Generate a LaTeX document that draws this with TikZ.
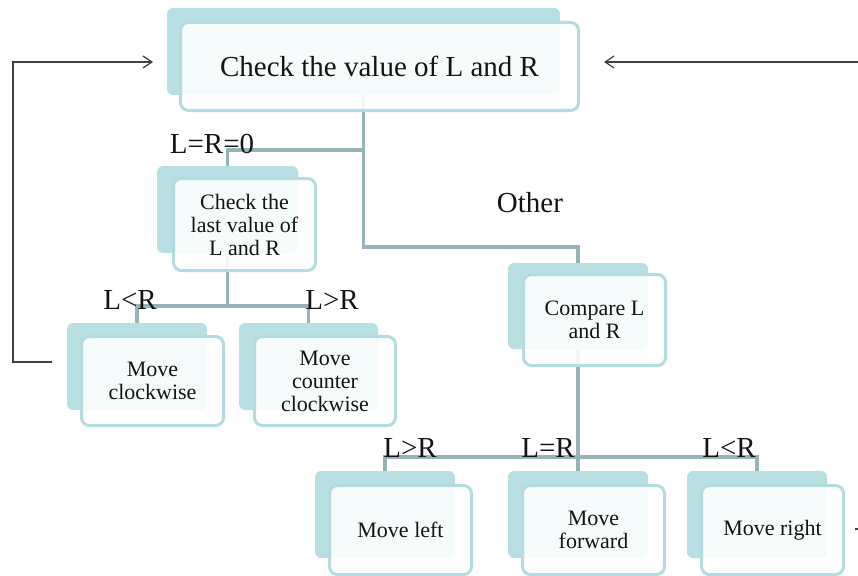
\documentclass[tikz,border=0pt]{standalone}
\usepackage{fontspec}
\setmainfont{Liberation Serif}
\usetikzlibrary{arrows.meta}
\definecolor{backc}{RGB}{184,223,226}
\definecolor{edgec}{RGB}{180,219,223}
\definecolor{connc}{RGB}{150,180,184}
\definecolor{loopc}{RGB}{64,64,64}
\definecolor{txtc}{RGB}{20,20,20}
\begin{document}
\begin{tikzpicture}[x=1pt,y=-1pt,
 backbox/.style={draw=none, fill=backc, rounded corners=6pt, inner sep=0pt},
 frontbox/.style={draw=edgec, line width=3pt, fill=white, fill opacity=0.88, text opacity=1, rounded corners=8pt, inner sep=0pt, align=center, font=\fontsize{22}{23}\selectfont, text=txtc},
 conn/.style={draw=connc, line width=3.2pt},
 lbl/.style={font=\fontsize{29}{30}\selectfont, text=txtc, inner sep=0pt},
 loopline/.style={draw=loopc, line width=1.2pt, -{Straight Barb[length=9pt,width=12pt]}}]
\useasboundingbox (0,0) rectangle (858,575);
\clip (0,0) rectangle (858,575);
% back boxes
\node[backbox, minimum width=393pt, minimum height=87pt] (bTop) at (363.5,51.5) {};
\node[backbox, minimum width=141pt, minimum height=87pt] (bChk) at (227.5,209.5) {};
\node[backbox, minimum width=140pt, minimum height=87pt] (bCw) at (137,366.5) {};
\node[backbox, minimum width=139pt, minimum height=87pt] (bCcw) at (308.5,366.5) {};
\node[backbox, minimum width=140pt, minimum height=86pt] (bCmp) at (578,306) {};
\node[backbox, minimum width=140pt, minimum height=87pt] (bLeft) at (385,514.5) {};
\node[backbox, minimum width=140pt, minimum height=87pt] (bFwd) at (578,514.5) {};
\node[backbox, minimum width=140pt, minimum height=87pt] (bRight) at (757,514.5) {};
% bus levels
\coordinate (busA) at (0,150);
\coordinate (busB) at (0,247);
\coordinate (busC) at (0,306);
\coordinate (busD) at (0,457);
% connectors
\draw[conn] (bTop.south) -- (bTop.south |- busA) -| (bChk.north);
\draw[conn] (bTop.south) -- (bTop.south |- busB) -| (bCmp.north);
\draw[conn] (bChk.south) -- (bChk.south |- busC) -| (bCw.north);
\draw[conn] (bChk.south |- busC) -| (bCcw.north);
\draw[conn] (bCmp.south) -- (bCmp.south |- busD) -| (bLeft.north);
\draw[conn] (bCmp.south |- busD) -| (bRight.north);
\draw[conn] (bCmp.south) -- (bFwd.north);
% front boxes
\node[frontbox, minimum width=398pt, minimum height=88pt, font=\fontsize{29}{30}\selectfont] (fTop) at (379.5,66.5) {Check the value of L and R};
\node[frontbox, minimum width=142pt, minimum height=92pt] (fChk) at (244.5,224.5) {Check the\\last value\ of\\L and R};
\node[frontbox, minimum width=142pt, minimum height=89pt] (fCw) at (152.5,381) {Move\\clockwise};
\node[frontbox, minimum width=141pt, minimum height=89pt] (fCcw) at (325,381) {Move\\counter\\clockwise};
\node[frontbox, minimum width=142pt, minimum height=91pt] (fCmp) at (594.5,320) {Compare L\\and R};
\node[frontbox, minimum width=142pt, minimum height=89pt] (fLeft) at (400.5,530) {Move left};
\node[frontbox, minimum width=142pt, minimum height=89pt] (fFwd) at (593.5,530) {Move\\forward};
\node[frontbox, minimum width=142pt, minimum height=89pt] (fRight) at (772.5,530) {Move right};
% labels
\node[lbl] (lZero) at (212,144) {L=R=0};
\node[lbl] (lOther) at (530,203) {Other};
\node[lbl] (lLtA) at (130,300) {L<R};
\node[lbl] (lGtA) at (332,300) {L>R};
\node[lbl] (lGtB) at (410,448) {L>R};
\node[lbl] (lEq) at (548,448) {L=R};
\node[lbl] (lLtB) at (729,448) {L<R};
% feedback loops
\coordinate (lStart) at (52,362);
\coordinate (lEnd) at (153,62);
\coordinate (rStart) at (855,529);
\coordinate (rEnd) at (604,62);
\draw[loopline] (lStart) -- (13,362) -- (13,62) -- (lEnd);
\draw[loopline] (rStart) -- (875,529) -- (875,62) -- (rEnd);
\end{tikzpicture}
\end{document}
